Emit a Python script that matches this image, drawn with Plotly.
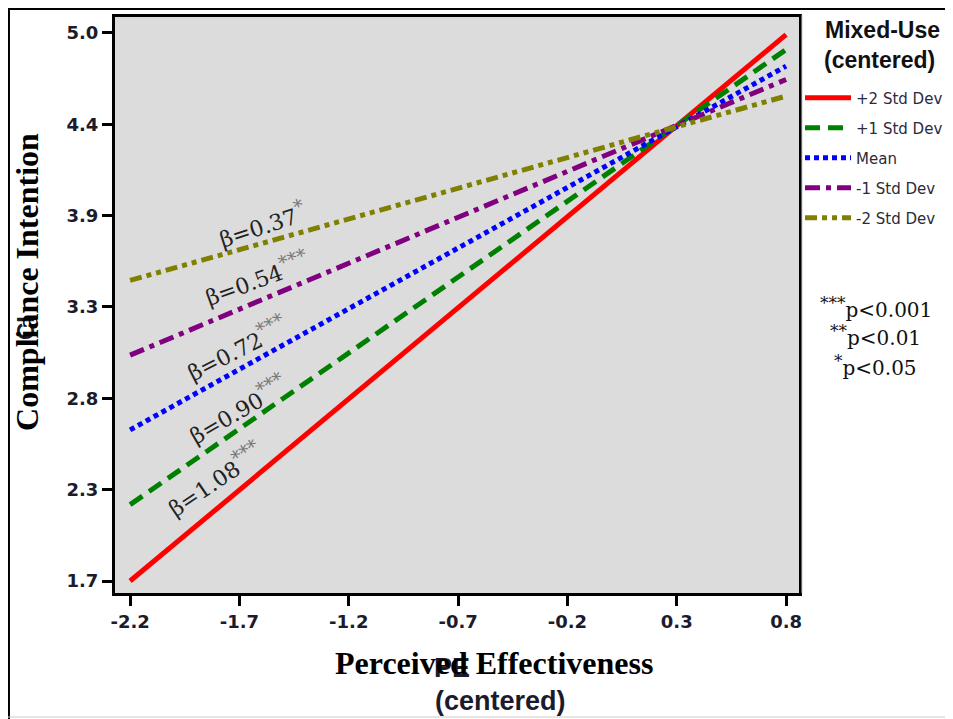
import plotly.graph_objects as go

# ---- data ----
pe_x = [-2.2, 0.8]
series_names = ["+2 Std Dev", "+1 Std Dev", "Mean", "-1 Std Dev", "-2 Std Dev"]
ci_at_low = [1.70, 2.16, 2.61, 3.06, 3.51]
ci_at_high = [4.99, 4.90, 4.80, 4.72, 4.62]
beta_values = ["1.08", "0.90", "0.72", "0.54", "0.37"]
beta_stars = ["***", "***", "***", "***", "*"]
x_tickvals = [-2.2, -1.7, -1.2, -0.7, -0.2, 0.3, 0.8]
x_ticktext = ["-2.2", "-1.7", "-1.2", "-0.7", "-0.2", "0.3", "0.8"]
y_tickvals = [1.7, 2.25, 2.8, 3.35, 3.9, 4.45, 5.0]
y_ticktext = ["1.7", "2.3", "2.8", "3.3", "3.9", "4.4", "5.0"]
pvalue_lines = ["***", "**", "*"]
pvalue_text = ["p&lt;0.001", "p&lt;0.01", "p&lt;0.05"]

# ---- styles ----
colors = ["#ff0000", "#008000", "#0000ff", "#800080", "#808000"]
dashes = ["solid", "15px,8px", "5px,4px", "15px,6px,5px,6px", "12px,5px,5px,5px,5px,5px"]
label_pos = [(-1.816, 2.321, -34), (-1.711, 2.742, -30), (-1.715, 3.109, -27),
             (-1.624, 3.531, -20), (-1.596, 3.856, -18)]

fig = go.Figure()
for i, name in enumerate(series_names):
    fig.add_trace(go.Scatter(
        x=pe_x, y=[ci_at_low[i], ci_at_high[i]], mode="lines", name=name,
        legendgroup=name,
        line=dict(color=colors[i], width=5, dash=dashes[i]),
    ))

annotations = []
for i in range(len(series_names)):
    lx, ly, ang = label_pos[i]
    annotations.append(dict(
        x=lx, y=ly, xref="x", yref="y", showarrow=False, textangle=ang,
        text=(f"β={beta_values[i]}<sup><span style='color:#777;font-size:19px'>"
              f"{beta_stars[i]}</span></sup>"),
        font=dict(family="DejaVu Serif", size=22, color="#222222"),
        xanchor="center", yanchor="middle",
    ))

pv_y = [0.4965, 0.4462, 0.3941]
for i in range(3):
    annotations.append(dict(
        x=1.112, y=pv_y[i], xref="paper", yref="paper", showarrow=False,
        text=f"<sup><span style='font-size:17px'>{pvalue_lines[i]}</span></sup>{pvalue_text[i]}",
        font=dict(family="DejaVu Serif", size=20, color="#111111"),
        xanchor="center", yanchor="middle",
    ))

# legend title
annotations += [
    dict(x=1.035, y=0.9774, xref="paper", yref="paper", showarrow=False, text="<b>Mixed-Use</b>",
         font=dict(family="Liberation Sans", size=23, color="#111111"),
         xanchor="left", yanchor="middle"),
    dict(x=1.033, y=0.9253, xref="paper", yref="paper", showarrow=False, text="<b>(centered)</b>",
         font=dict(family="Liberation Sans", size=23, color="#111111"),
         xanchor="left", yanchor="middle"),
]

# axis titles (overlapping original labels)
annotations += [
    dict(x=0.4927, y=-0.1302, xref="paper", yref="paper", showarrow=False, text="<b>PE</b>",
         font=dict(family="Liberation Sans", size=27, color="#1b1b2b"),
         xanchor="center", yanchor="middle"),
    dict(x=0.5541, y=-0.1215, xref="paper", yref="paper", showarrow=False,
         text="<b>Perceived Effectiveness</b>",
         font=dict(family="Liberation Serif", size=32, color="#000000"),
         xanchor="center", yanchor="middle"),
    dict(x=0.5629, y=-0.1875, xref="paper", yref="paper", showarrow=False, text="<b>(centered)</b>",
         font=dict(family="Liberation Sans", size=27, color="#1b1b2b"),
         xanchor="center", yanchor="middle"),
    dict(x=-0.1316, y=0.460, xref="paper", yref="paper", showarrow=False, text="<b>CI</b>",
         textangle=-90, font=dict(family="Liberation Sans", size=24, color="#1b1b2b"),
         xanchor="center", yanchor="middle"),
    dict(x=-0.1287, y=0.54, xref="paper", yref="paper", showarrow=False,
         text="<b>Compliance Intention</b>", textangle=-90,
         font=dict(family="Liberation Serif", size=32, color="#000000"),
         xanchor="center", yanchor="middle"),
]

shapes = [
    dict(type="line", xref="paper", yref="paper", x0=-0.1564, x1=1.2251, y0=1.0139, y1=1.0139,
         line=dict(color="#000000", width=2)),
    dict(type="line", xref="paper", yref="paper", x0=-0.1550, x1=-0.1550, y0=1.0156, y1=-0.25,
         line=dict(color="#000000", width=2)),
    dict(type="line", xref="paper", yref="paper", x0=-0.1564, x1=1.2251, y0=-0.2153, y1=-0.2153,
         line=dict(color="#cccccc", width=1)),
    dict(type="line", xref="paper", yref="paper", x0=1.0044, x1=1.0044, y0=1.0035, y1=0.0,
         line=dict(color="#cccccc", width=1)),
]

fig.update_layout(
    width=945, height=711,
    margin=dict(l=107, r=154, t=9, b=126, autoexpand=False),
    paper_bgcolor="#ffffff", plot_bgcolor="#dcdcdc",
    showlegend=True,
    legend=dict(
        x=1.0015, xanchor="left", y=0.888, yanchor="top",
        traceorder="grouped", tracegroupgap=7.5, itemwidth=46,
        bgcolor="rgba(0,0,0,0)",
        font=dict(family="DejaVu Sans", size=15, color="#2b2b3b"),
    ),
    xaxis=dict(
        range=[-2.269, 0.859], tickvals=x_tickvals, ticktext=x_ticktext,
        showgrid=False, zeroline=False, showline=True, mirror=True,
        linecolor="#000000", linewidth=3, ticks="outside", ticklen=10, tickwidth=3,
        tickcolor="#000000",
        tickfont=dict(family="DejaVu Sans", size=18, color="#1b1b2b", weight="bold"),
    ),
    yaxis=dict(
        range=[1.628, 5.096], tickvals=y_tickvals, ticktext=y_ticktext,
        showgrid=False, zeroline=False, showline=True, mirror=True,
        linecolor="#000000", linewidth=3, ticks="outside", ticklen=10, tickwidth=3,
        tickcolor="#000000",
        tickfont=dict(family="DejaVu Sans", size=18, color="#1b1b2b", weight="bold"),
    ),
    annotations=annotations,
    shapes=shapes,
)

fig.write_html("out.html")
